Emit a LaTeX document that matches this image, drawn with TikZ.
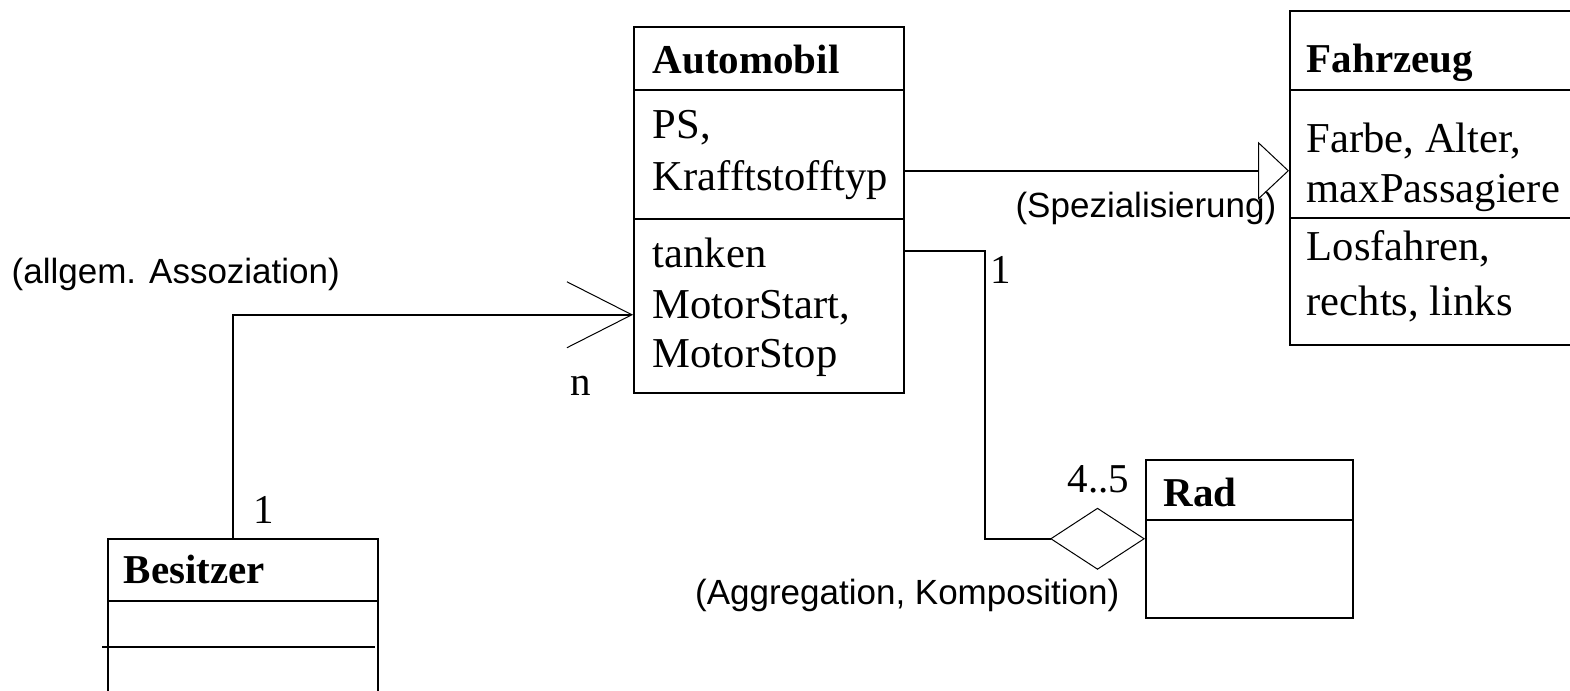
\documentclass[tikz,border=0pt]{standalone}
\usepackage{fontspec}
\setmainfont{Liberation Serif}
\newfontfamily\labfont{Liberation Sans}
\usetikzlibrary{arrows.meta}
\begin{document}
\begin{tikzpicture}[x=0.5pt,y=-0.5pt,line width=0.75pt,
  box/.style={draw,rectangle,anchor=north west,inner sep=0pt,line width=0.75pt},
  txt/.style={anchor=base west,inner sep=0pt,font=\fontsize{21.3pt}{25pt}\selectfont},
  mult/.style={anchor=base west,inner sep=0pt,font=\fontsize{20.5pt}{24pt}\selectfont},
  ttl/.style={anchor=base west,inner sep=0pt,font=\fontsize{20.5pt}{24pt}\selectfont\bfseries},
  lab/.style={inner sep=0pt,font=\labfont\fontsize{17.5pt}{21pt}\selectfont},
  assoc/.style={-{Straight Barb[length=32.5pt,width=33pt,line width=0.5pt]}},
  gen/.style={-{Triangle[open,length=15.5pt,width=29pt,line width=0.5pt]}},
  aggr/.style={-{Diamond[open,length=47.5pt,width=31pt,line width=0.5pt]}}]
\useasboundingbox (0,0) rectangle (1570,691);
\fill[white] (0,0) rectangle (1570,691);

% boxes
\node[box,minimum width=135pt,minimum height=183pt] (auto) at (633,26) {};
\node[box,minimum width=150pt,minimum height=167pt] (fahr) at (1289,10) {};
\node[box,minimum width=103.5pt,minimum height=79pt] (rad) at (1145,459) {};
\node[box,minimum width=135pt,minimum height=100pt] (bes) at (107,538) {};

% compartments
\draw ([yshift=-32pt]auto.north west) -- ([yshift=-32pt]auto.north east);
\draw ([yshift=-96.5pt]auto.north west) -- ([yshift=-96.5pt]auto.north east);
\draw ([yshift=-40pt]fahr.north west) -- ([yshift=-40pt]fahr.north east);
\draw ([yshift=-104pt]fahr.north west) -- ([yshift=-104pt]fahr.north east);
\draw ([yshift=-30.5pt]rad.north west) -- ([yshift=-30.5pt]rad.north east);
\draw ([yshift=-31.5pt]bes.north west) -- ([yshift=-31.5pt]bes.north east);
\draw ([xshift=-2.5pt,yshift=-54.5pt]bes.north west) -- ([xshift=-2pt,yshift=-54.5pt]bes.north east);

% texts in boxes
\node[ttl] (autot) at (652,73) {Automobil};
\node[txt] (auta1) at (652,138) {PS,};
\node[txt] (auta2) at (652,190) {Krafftstofftyp};
\node[txt] (autm1) at (652,267) {tanken};
\node[txt] (autm2) at (652,318) {MotorStart,};
\node[txt] (autm3) at (652,367) {MotorStop};

\node[ttl] (fahrt) at (1306,72) {Fahrzeug};
\node[txt] (fahra1) at (1306,152) {Farbe, Alter,};
\node[txt] (fahra2) at (1306,202) {maxPassagiere};
\node[txt] (fahrm1) at (1306,260) {Losfahren,};
\node[txt] (fahrm2) at (1306,315) {rechts, links};

\node[ttl] (radt) at (1163,506) {Rad};
\node[ttl] (best) at (123,583) {Besitzer};

% connectors
\draw[assoc] ([xshift=63pt]bes.north west) |- ([yshift=-52.5pt]auto.west);
\draw[gen] ([yshift=19.5pt]auto.east) coordinate (g0) -- (g0 -| fahr.west);
\draw[aggr] ([yshift=-20.5pt]auto.east) -| ([xshift=-80pt]rad.west) -- (rad.west);

% multiplicities
\node[mult] (m1) at (253,523) {1};
\node[mult] (mn) at (570,395) {n};
\node[mult] (m2) at (990,283) {1};
\node[mult] (m3) at (1067,492) {4..5};

% labels
\node[lab,anchor=base west] (l1) at (11,283) {(allgem. Assoziation)};
\node[lab,anchor=base east] (l2) at (1277,217) {(Spezialisierung)};
\node[lab,anchor=base east] (l3) at (1120,604) {(Aggregation, Komposition)};
\end{tikzpicture}
\end{document}
